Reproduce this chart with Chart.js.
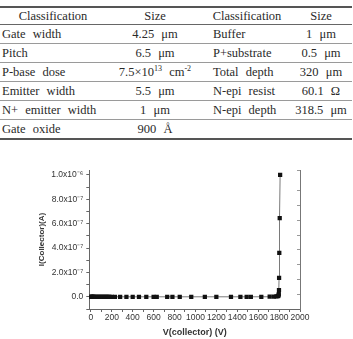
<!DOCTYPE html>
<html>
<head>
<meta charset="utf-8">
<script src="https://cdn.jsdelivr.net/npm/chart.js@4.4.1/dist/chart.umd.min.js"></script>
<style>
  body { margin: 0; width: 353px; height: 339px; background: #fff; overflow: hidden; position: relative; }
  table { position: absolute; top: 6px; left: 0; width: 352px; table-layout: fixed; border-collapse: collapse;
          font-family: "Liberation Serif", "DejaVu Serif", serif; font-size: 12.5px; color: #2a2a2a; word-spacing: 4px; }
  th, td { height: 18px; padding: 0; font-weight: normal; white-space: nowrap; text-align: center; }
  th { height: 16px; }
  thead tr { border-top: 2px solid #555; border-bottom: 1px solid #666; }
  tbody tr { border-bottom: 1px solid #9a9a9a; }
  tbody tr:last-child { border-bottom: 2px solid #555; }
  td.name1 { text-align: left; padding-left: 2px; }
  td.name2 { text-align: left; padding-left: 9px; }
  sup { font-size: 8px; vertical-align: 5px; line-height: 0; word-spacing: 0; }
  #wrap { position: absolute; left: 0; top: 160px; width: 353px; height: 179px; }
</style>
</head>
<body>
<table>
  <colgroup><col style="width:106px"><col style="width:98px"><col style="width:86px"><col style="width:62px"></colgroup>
  <thead>
    <tr><th>Classification</th><th>Size</th><th>Classification</th><th>Size</th></tr>
  </thead>
  <tbody>
    <tr><td class="name1">Gate width</td><td>4.25 μm</td><td class="name2">Buffer</td><td>1 μm</td></tr>
    <tr><td class="name1">Pitch</td><td>6.5 μm</td><td class="name2">P+substrate</td><td>0.5 μm</td></tr>
    <tr><td class="name1">P-base dose</td><td>7.5×10<sup>13</sup> cm<sup>-2</sup></td><td class="name2">Total depth</td><td>320 μm</td></tr>
    <tr><td class="name1">Emitter width</td><td>5.5 μm</td><td class="name2">N-epi resist</td><td>60.1 Ω</td></tr>
    <tr><td class="name1">N+ emitter width</td><td>1 μm</td><td class="name2">N-epi depth</td><td>318.5 μm</td></tr>
    <tr><td class="name1">Gate oxide</td><td>900 Å</td><td></td><td></td></tr>
  </tbody>
</table>
<div id="wrap"><canvas id="grafico"></canvas></div>
<script>
// collector voltage (V) and collector current (A)
const vCollector = [0, 3, 6, 10, 15, 20, 25, 30, 40, 50, 60, 70, 80, 90, 100, 110, 120, 130, 140, 150, 160, 170, 180, 200,
  230, 280, 340, 400, 460, 530, 600, 630, 730, 780, 850, 960, 1090, 1200, 1340, 1430, 1490, 1530, 1630, 1710,
  1750, 1775, 1790, 1795, 1797, 1799, 1800, 1802, 1806, 1810];
const iCollector = [0, 0, 0, 0, 0, 0, 0, 0, 0, 0, 0, 0, 0, 0, 0, 0, 0, 0, 0, 0, 0, 0, 0, 0,
  0, 0, 0, 0, 0, 0, 0, 0, 0, 0, 0, 0, 0, 0, 0, 0, 0, 1e-10, 2e-10, 5e-10,
  2e-9, 3e-9, 5e-9, 1.2e-8, 2.2e-8, 5.5e-8, 1.55e-7, 3.6e-7, 6.45e-7, 1.0e-6];
const yTickLabels = ["0.0", "2.0x10⁻⁷", "4.0x10⁻⁷", "6.0x10⁻⁷", "8.0x10⁻⁷", "1.0x10⁻⁶"];
const xTickLabels = ["0", "200", "400", "600", "800", "1000", "1200", "1400", "1600", "1800", "2000"];

const pontos = vCollector.map((v, k) => ({ x: v, y: iCollector[k] }));

const fonteTick = { family: "Liberation Sans, Arial, sans-serif", size: 8.5 };
const fonteTitulo = { family: "Liberation Sans, Arial, sans-serif", size: 9, weight: "bold" };

new Chart(document.getElementById("grafico"), {
  type: "scatter",
  data: {
    datasets: [{
      data: pontos,
      showLine: true,
      borderColor: "#7a7a7a",
      borderWidth: 1,
      pointStyle: "rect",
      pointRadius: 3,
      pointBackgroundColor: "#111",
      pointBorderWidth: 0
    }]
  },
  options: {
    responsive: true,
    maintainAspectRatio: false,
    animation: false,
    layout: { padding: { left: 37, right: 41, top: 10, bottom: 0 } },
    plugins: { legend: { display: false }, tooltip: { enabled: false } },
    scales: {
      x: {
        type: "linear",
        min: -15,
        max: 2000,
        afterFit: s => { s.height = 30; },
        border: { color: "#666" },
        grid: { drawOnChartArea: false, tickLength: 3, color: "#666" },
        ticks: {
          stepSize: 100,
          includeBounds: false,
          autoSkip: false,
          maxRotation: 0,
          minRotation: 0,
          padding: 1,
          color: "#333",
          font: fonteTick,
          callback: v => {
            const n = Math.round(v / 100);
            return n % 2 === 0 ? xTickLabels[n / 2] : "";
          }
        },
        title: { display: true, text: "V(collector) (V)", color: "#333", font: fonteTitulo, padding: { top: 0, bottom: 1 } }
      },
      y: {
        type: "linear",
        min: -1e-7,
        max: 1.04e-6,
        afterFit: s => { s.width = 52.3; },
        border: { color: "#666" },
        grid: { drawOnChartArea: false, tickLength: 3, color: "#666" },
        ticks: {
          stepSize: 1e-7,
          includeBounds: false,
          autoSkip: false,
          padding: 3,
          color: "#333",
          font: fonteTick,
          callback: v => {
            const n = Math.round(v / 1e-7);
            return (n >= 0 && n % 2 === 0) ? yTickLabels[n / 2] : "";
          }
        },
        title: { display: true, text: "I(Collector)(A)", color: "#333", font: { ...fonteTitulo, size: 8 }, padding: 0 }
      },
      y2: {
        type: "linear",
        position: "right",
        min: 0,
        max: 9.4,
        afterFit: s => { s.width = 12; },
        border: { color: "#777" },
        grid: { drawOnChartArea: false, tickLength: -3, color: "#999" },
        ticks: { stepSize: 1, display: false }
      }
    }
  }
});
</script>
</body>
</html>
